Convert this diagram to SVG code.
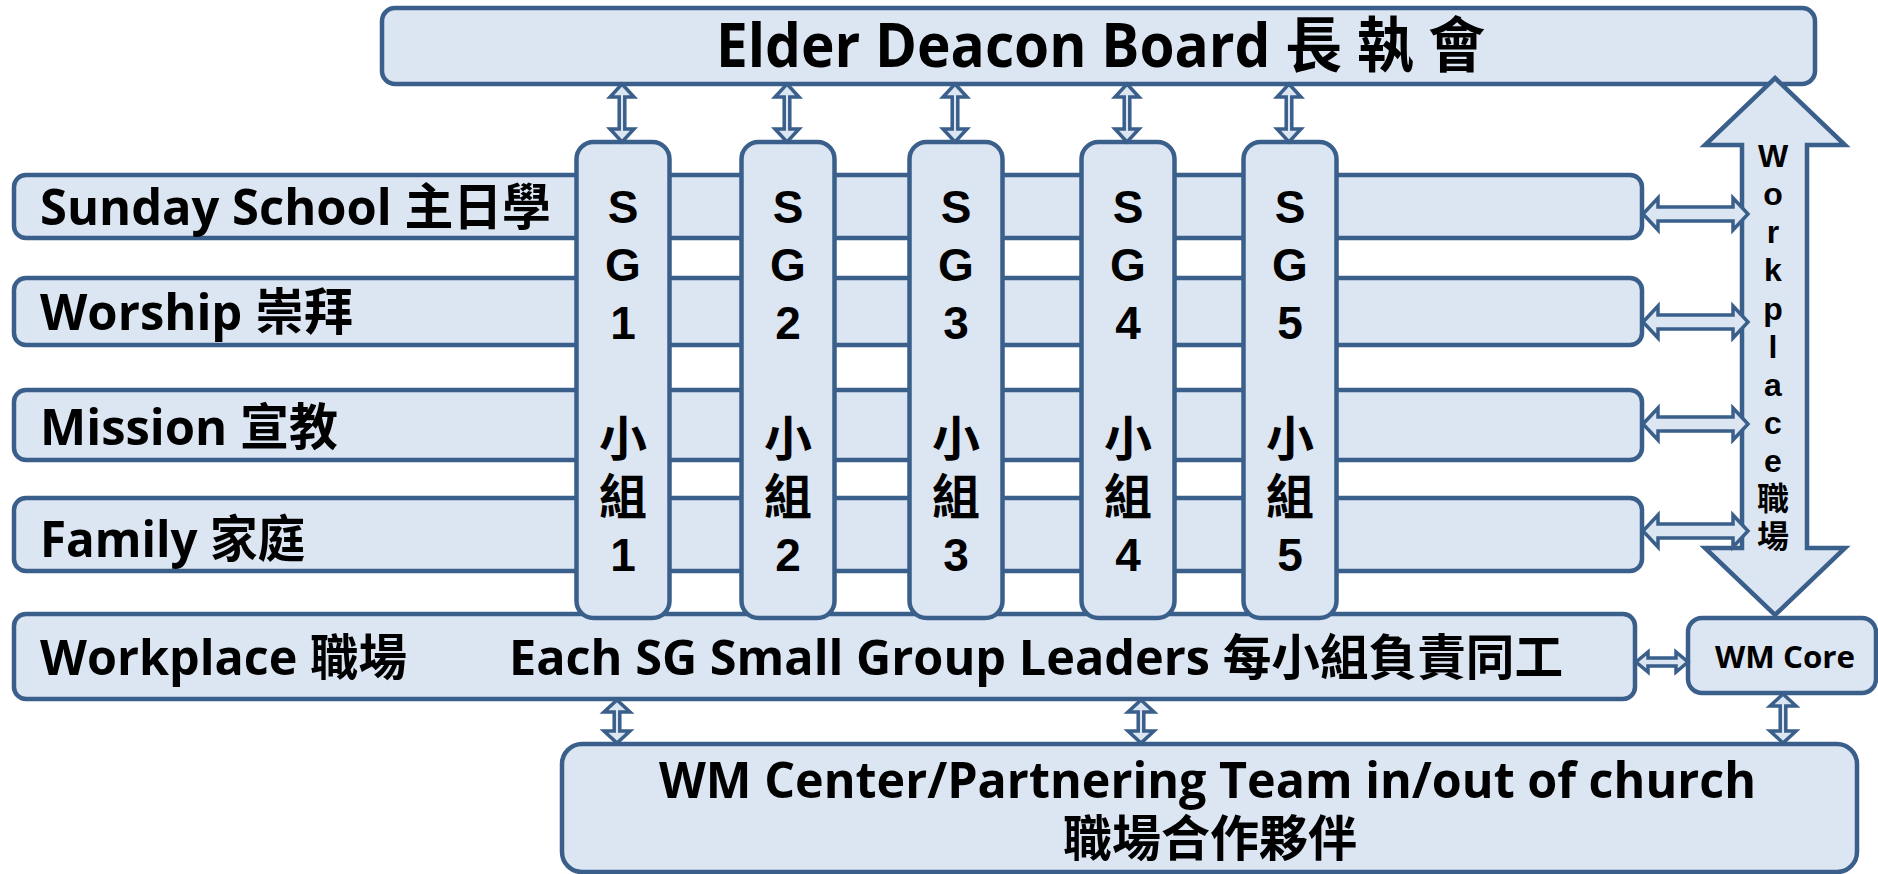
<svg xmlns="http://www.w3.org/2000/svg" width="1878" height="874" viewBox="0 0 1878 874">
<style>
.box{fill:#DCE6F2;stroke:#3A5F8B;stroke-width:4.5}
.arr{fill:#DCE6F2;stroke:#3A5F8B;stroke-width:3.5;stroke-linejoin:miter}
.t{font-family:"Open Sans","Noto Sans CJK TC",sans-serif;font-weight:700;fill:#000}
.c{text-anchor:middle}
.cjk{font-family:"Noto Sans CJK TC",sans-serif;font-weight:700}
.st{font-family:"Liberation Sans","Noto Sans CJK TC",sans-serif;font-weight:700;fill:#000;text-anchor:middle}
.sg{font-size:46px}
.sg .k{font-size:48px}
</style>
<rect width="1878" height="874" fill="#FFFFFF"/>

<g id="board">
<rect class="box" x="382" y="8" width="1433" height="76" rx="13"/>
<text class="t" x="716" y="67" font-size="60" textLength="769" lengthAdjust="spacingAndGlyphs">Elder Deacon Board 長 執 會</text>
</g>

<g id="sunday-school">
<rect class="box" x="14" y="175" width="1628" height="63" rx="12"/>
<text class="t" x="40" y="225" font-size="50" textLength="511" lengthAdjust="spacingAndGlyphs">Sunday School 主日學</text>
</g>
<g id="worship">
<rect class="box" x="14" y="278" width="1628" height="67" rx="12"/>
<text class="t" x="40" y="330" font-size="50" textLength="313" lengthAdjust="spacingAndGlyphs">Worship 崇拜</text>
</g>
<g id="mission">
<rect class="box" x="14" y="390" width="1628" height="70" rx="12"/>
<text class="t" x="40" y="445" font-size="50" textLength="298" lengthAdjust="spacingAndGlyphs">Mission 宣教</text>
</g>
<g id="family">
<rect class="box" x="14" y="498" width="1628" height="73" rx="12"/>
<text class="t" x="40" y="557" font-size="50" textLength="265" lengthAdjust="spacingAndGlyphs">Family 家庭</text>
</g>
<g id="workplace-row">
<rect class="box" x="14" y="614" width="1621" height="85" rx="12"/>
<text class="t" x="40" y="675" font-size="49" textLength="367" lengthAdjust="spacingAndGlyphs">Workplace 職場</text>
<text class="t" x="509" y="675" font-size="49" textLength="1054" lengthAdjust="spacingAndGlyphs">Each SG Small Group Leaders 每小組負責同工</text>
</g>

<g id="sg1">
<rect class="box" x="576.5" y="142" width="93" height="476" rx="17"/>
<text class="st sg" x="623" y="223"><tspan x="623" y="223">S</tspan><tspan x="623" y="281">G</tspan><tspan x="623" y="339">1</tspan><tspan class="k" x="623" y="456">小</tspan><tspan class="k" x="623" y="514">組</tspan><tspan x="623" y="571">1</tspan></text>
</g>
<g id="sg2">
<rect class="box" x="741.5" y="142" width="93" height="476" rx="17"/>
<text class="st sg" x="788" y="223"><tspan x="788" y="223">S</tspan><tspan x="788" y="281">G</tspan><tspan x="788" y="339">2</tspan><tspan class="k" x="788" y="456">小</tspan><tspan class="k" x="788" y="514">組</tspan><tspan x="788" y="571">2</tspan></text>
</g>
<g id="sg3">
<rect class="box" x="909.5" y="142" width="93" height="476" rx="17"/>
<text class="st sg" x="956" y="223"><tspan x="956" y="223">S</tspan><tspan x="956" y="281">G</tspan><tspan x="956" y="339">3</tspan><tspan class="k" x="956" y="456">小</tspan><tspan class="k" x="956" y="514">組</tspan><tspan x="956" y="571">3</tspan></text>
</g>
<g id="sg4">
<rect class="box" x="1081.5" y="142" width="93" height="476" rx="17"/>
<text class="st sg" x="1128" y="223"><tspan x="1128" y="223">S</tspan><tspan x="1128" y="281">G</tspan><tspan x="1128" y="339">4</tspan><tspan class="k" x="1128" y="456">小</tspan><tspan class="k" x="1128" y="514">組</tspan><tspan x="1128" y="571">4</tspan></text>
</g>
<g id="sg5">
<rect class="box" x="1243.5" y="142" width="93" height="476" rx="17"/>
<text class="st sg" x="1290" y="223"><tspan x="1290" y="223">S</tspan><tspan x="1290" y="281">G</tspan><tspan x="1290" y="339">5</tspan><tspan class="k" x="1290" y="456">小</tspan><tspan class="k" x="1290" y="514">組</tspan><tspan x="1290" y="571">5</tspan></text>
</g>

<g id="workplace-arrow">
<polygon class="box" points="1775,78 1845,145 1807,145 1807,548 1845,548 1775,615 1705,548 1742,548 1742,145 1705,145"/>
<text class="st" font-size="32" x="1773" y="167"><tspan x="1773" y="167">W</tspan><tspan x="1773" y="205">o</tspan><tspan x="1773" y="243">r</tspan><tspan x="1773" y="281">k</tspan><tspan x="1773" y="320">p</tspan><tspan x="1773" y="358">l</tspan><tspan x="1773" y="396">a</tspan><tspan x="1773" y="434">c</tspan><tspan x="1773" y="472">e</tspan><tspan x="1773" y="510">職</tspan><tspan x="1773" y="548">場</tspan></text>
</g>

<g id="wm-core">
<rect class="box" x="1688" y="618" width="188" height="75" rx="14"/>
<text class="t" x="1715" y="668" font-size="30" textLength="140" lengthAdjust="spacingAndGlyphs">WM Core</text>
</g>

<g id="wm-center">
<rect class="box" x="562" y="744" width="1295" height="128" rx="20"/>
<text class="t" x="659" y="798" font-size="50" textLength="1097" lengthAdjust="spacingAndGlyphs">WM Center/Partnering Team in/out of church</text>
<text class="t c cjk" x="1210" y="856" font-size="49">職場合作夥伴</text>
</g>

<g id="connectors">
<polygon class="arr" points="622,84 634,97 624.8,97 624.8,129 634,129 622,142 610,129 619.2,129 619.2,97 610,97"/>
<polygon class="arr" points="787,84 799,97 789.8,97 789.8,129 799,129 787,142 775,129 784.2,129 784.2,97 775,97"/>
<polygon class="arr" points="955,84 967,97 957.8,97 957.8,129 967,129 955,142 943,129 952.2,129 952.2,97 943,97"/>
<polygon class="arr" points="1127,84 1139,97 1129.8,97 1129.8,129 1139,129 1127,142 1115,129 1124.2,129 1124.2,97 1115,97"/>
<polygon class="arr" points="1289,84 1301,97 1291.8,97 1291.8,129 1301,129 1289,142 1277,129 1286.2,129 1286.2,97 1277,97"/>
<polygon class="arr" stroke-width="4" points="1643,214 1658,198 1658,207 1733,207 1733,198 1748,214 1733,230 1733,221 1658,221 1658,230"/>
<polygon class="arr" stroke-width="4" points="1643,322 1658,306 1658,315 1733,315 1733,306 1748,322 1733,338 1733,329 1658,329 1658,338"/>
<polygon class="arr" stroke-width="4" points="1643,424 1658,408 1658,417 1733,417 1733,408 1748,424 1733,440 1733,431 1658,431 1658,440"/>
<polygon class="arr" stroke-width="4" points="1643,531 1658,515 1658,524 1733,524 1733,515 1748,531 1733,547 1733,538 1658,538 1658,547"/>
<polygon class="arr" points="1636,662 1648,652 1648,658 1676,658 1676,652 1688,662 1676,672 1676,666 1648,666 1648,672"/>
<polygon class="arr" points="617,700 630,712 619.8,712 619.8,731 630,731 617,743 604,731 614.2,731 614.2,712 604,712"/>
<polygon class="arr" points="1141,700 1154,712 1143.8,712 1143.8,731 1154,731 1141,743 1128,731 1138.2,731 1138.2,712 1128,712"/>
<polygon class="arr" points="1783,694 1796,706 1785.8,706 1785.8,731 1796,731 1783,743 1770,731 1780.2,731 1780.2,706 1770,706"/>
</g>
</svg>
